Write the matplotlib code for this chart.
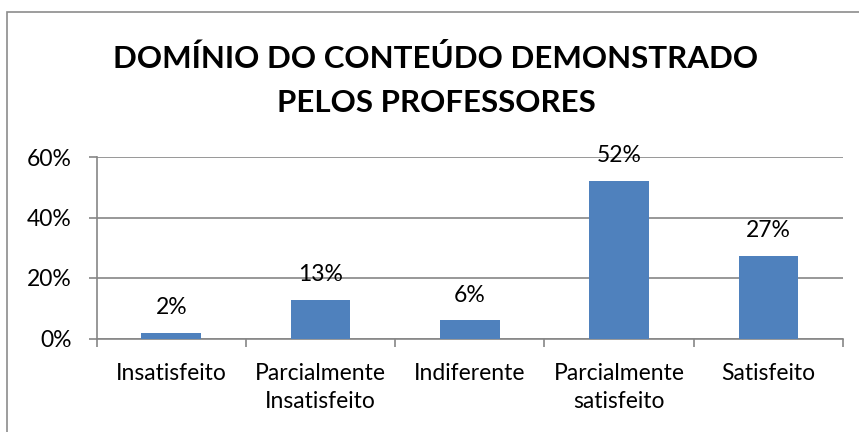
import matplotlib
matplotlib.use("Agg")
import matplotlib.pyplot as plt
from matplotlib.patches import Rectangle

plt.rcParams['font.family'] = ['Lato', 'DejaVu Sans']

categories = ["Insatisfeito", "Parcialmente\nInsatisfeito", "Indiferente",
              "Parcialmente\nsatisfeito", "Satisfeito"]
values = [0.018, 0.127, 0.06, 0.52, 0.273]
yticks = [0.0, 0.2, 0.4, 0.6]
title_lines = ["DOMÍNIO DO CONTEÚDO DEMONSTRADO", "PELOS PROFESSORES"]

W, H = 859, 432
fig = plt.figure(figsize=(W/100, H/100), dpi=100)
fig.patches.append(Rectangle((7/W, -0.1), 1.2, (H-12)/H + 0.1, transform=fig.transFigure,
                             fill=False, edgecolor="#8c8c8c", linewidth=1.2, zorder=0))

ax = fig.add_axes([96.7/W, (H-338.5)/H, (843-96.7)/W, (338.5-157)/H])
x = list(range(len(categories)))
ax.bar(x, values, width=0.4, color="#4F81BD", zorder=3)
for xi, v in zip(x, values):
    ax.annotate(f"{v:.0%}", (xi, v), xytext=(0, 13.5), textcoords="offset points",
                ha="center", va="baseline", fontsize=16.5, color="black", zorder=4)

ax.set_xlim(-0.5, len(categories) - 0.5)
ax.set_ylim(0, 0.6)
ax.set_yticks(yticks)
ax.set_yticklabels([f"{t:.0%}" for t in yticks], fontsize=16.5)
ax.yaxis.grid(True, color="#868686", linewidth=1.2, zorder=0)
ax.set_xticks(x)
ax.set_xticklabels(categories, fontsize=16.5, linespacing=1.45)
ax.set_xticks([i - 0.5 for i in range(len(categories) + 1)], minor=True)
ax.tick_params(axis="x", which="major", length=0, pad=17.5)
ax.tick_params(axis="x", which="minor", length=6, color="#868686", width=1.2)
ax.tick_params(axis="y", length=6, color="#868686", width=1.2, pad=12)
for s in ["top", "right"]:
    ax.spines[s].set_visible(False)
for s in ["left", "bottom"]:
    ax.spines[s].set_color("#868686")
    ax.spines[s].set_linewidth(1.2)

for line, base in zip(title_lines, [68, 112]):
    fig.text(436/W, 1 - base/H, line, ha="center", va="baseline", fontsize=22.5,
             fontweight="bold")

fig.savefig("out.png", dpi=100)
